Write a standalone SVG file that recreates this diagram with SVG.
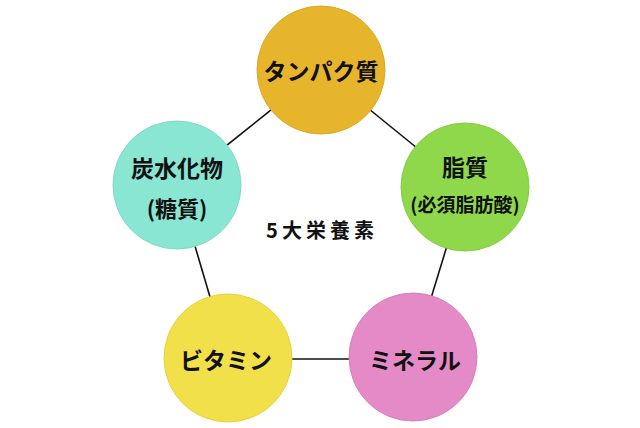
<svg xmlns="http://www.w3.org/2000/svg" width="640" height="428" viewBox="0 0 640 428">
<style>
.c{stroke-width:1}
.t{font-family:"Noto Sans CJK JP","Noto Sans",sans-serif;font-weight:bold;fill:#111;text-anchor:middle;dominant-baseline:central}
.l{stroke:#111;stroke-width:1.6;fill:none}
</style>
<rect width="640" height="428" fill="#fff"/>
<g id="connectors">
<line class="l" x1="321" y1="70" x2="177" y2="185"/>
<line class="l" x1="321" y1="70" x2="465" y2="187"/>
<line class="l" x1="177" y1="185" x2="228" y2="358"/>
<line class="l" x1="465" y1="187" x2="413" y2="357"/>
<line class="l" x1="228" y1="359" x2="413" y2="359"/>
</g>
<g id="center"><text class="t" x="322" y="229" font-size="20" letter-spacing="4">5大栄養素</text></g>
<g id="protein">
<circle class="c" cx="321" cy="70" r="64" fill="#E6B52C" stroke="#D9A826"/>
<text class="t" x="321" y="70" font-size="23">タンパク質</text>
</g>
<g id="lipid">
<circle class="c" cx="465" cy="187" r="64" fill="#8FD84C" stroke="#84CC44"/>
<text class="t" x="465" y="166" font-size="23">脂質</text>
<text class="t" x="465" y="203" font-size="19">(必須脂肪酸)</text>
</g>
<g id="carb">
<circle class="c" cx="177" cy="185" r="64" fill="#88E6D3" stroke="#7FDAC7"/>
<text class="t" x="177" y="167" font-size="23">炭水化物</text>
<text class="t" x="177" y="207" font-size="22">(糖質)</text>
</g>
<g id="vitamin">
<circle class="c" cx="228" cy="358" r="64" fill="#F2E04A" stroke="#E5D240"/>
<text class="t" x="226" y="359" font-size="23">ビタミン</text>
</g>
<g id="mineral">
<circle class="c" cx="413" cy="357" r="64" fill="#E48AC6" stroke="#D880BB"/>
<text class="t" x="415" y="359" font-size="23">ミネラル</text>
</g>
</svg>
